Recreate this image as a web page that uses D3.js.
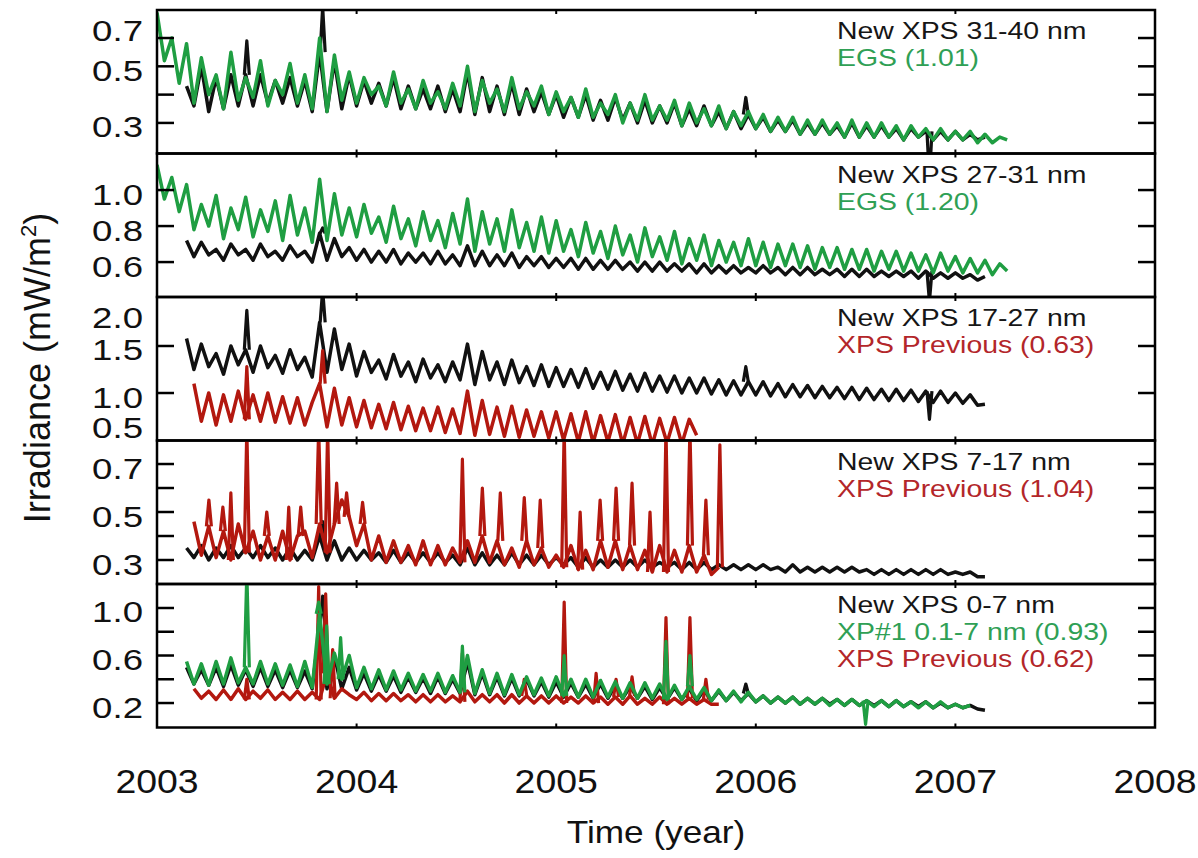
<!DOCTYPE html>
<html>
<head>
<meta charset="utf-8">
<script src="https://cdn.jsdelivr.net/npm/d3@7"></script>
<style>
  body { margin: 0; background: #fff; }
  svg { display: block; }
  text { font-family: "Liberation Sans", Arial, sans-serif; }
</style>
</head>
<body>
<div id="chart"></div>
<script>
// sampling step of every series: half a solar rotation (1/27 yr)
const STEP = 1 / 27;
const yearTicks = [2003, 2004, 2005, 2006, 2007, 2008];

// ── Panel 1: 31-40 nm ─────────────────────────────────────────────
const p1GreenStart = 2003.0;
const p1Green = [
  0.69,0.52,0.60,0.44,0.58,0.37,0.53,0.40,0.47,0.35,0.55,0.38,0.46,0.39,0.52,0.36,0.45,0.40,0.51,0.37,0.47,0.35,0.60,0.34,0.54,0.38,0.48,
  0.37,0.46,0.40,0.43,0.36,0.48,0.37,0.42,0.35,0.45,0.37,0.41,0.35,0.44,0.36,0.50,0.34,0.45,0.37,0.42,0.34,0.46,0.35,0.41,0.36,0.43,0.33,
  0.41,0.34,0.39,0.32,0.42,0.32,0.37,0.33,0.40,0.30,0.37,0.31,0.40,0.31,0.36,0.31,0.38,0.29,0.37,0.30,0.35,0.29,0.36,0.28,0.34,0.29,0.34,
  0.28,0.33,0.27,0.32,0.27,0.32,0.26,0.31,0.26,0.31,0.26,0.30,0.25,0.31,0.25,0.30,0.25,0.30,0.25,0.29,0.24,0.29,0.25,0.28,0.24,0.28,0.24,
  0.27,0.24,0.27,0.23,0.26,0.23,0.25,0.24
];
const p1BlackStart = 2003.148;
const p1Black = [
  0.43,0.36,0.50,0.34,0.46,0.35,0.47,0.36,0.47,0.36,0.47,0.37,0.45,0.37,0.46,0.36,0.45,0.34,0.55,0.34,0.52,0.35,0.47,
  0.36,0.45,0.37,0.44,0.36,0.46,0.35,0.43,0.35,0.42,0.35,0.43,0.34,0.42,0.34,0.48,0.33,0.46,0.34,0.43,0.33,0.44,0.33,0.42,0.34,0.41,0.33,
  0.40,0.32,0.39,0.32,0.40,0.31,0.38,0.31,0.39,0.31,0.37,0.30,0.38,0.30,0.36,0.30,0.37,0.29,0.35,0.29,0.36,0.29,0.34,0.28,0.34,0.28,0.33,
  0.28,0.32,0.27,0.31,0.27,0.31,0.26,0.30,0.26,0.30,0.26,0.29,0.25,0.30,0.25,0.29,0.25,0.29,0.25,0.28,0.24,0.28,0.25,0.27,0.24,0.27,0.24,
  0.27,0.24,0.26,0.24,0.25
];
const p1BlackFlares = [[2003.45, 0.59], [2003.83, 0.71], [2005.95, 0.39], [2006.87, 0.10]];

// ── Panel 2: 27-31 nm ─────────────────────────────────────────────
const p2GreenStart = 2003.0;
const p2Green = [
  1.14,0.95,1.07,0.88,1.03,0.78,0.92,0.80,0.97,0.73,0.90,0.78,0.96,0.74,0.89,0.77,0.94,0.72,0.97,0.75,0.90,0.71,1.06,0.72,0.98,0.75,0.90,
  0.74,0.92,0.76,0.85,0.71,0.91,0.73,0.84,0.69,0.88,0.72,0.83,0.68,0.87,0.70,0.95,0.66,0.88,0.70,0.84,0.66,0.89,0.68,0.82,0.66,0.85,0.65,
  0.83,0.66,0.78,0.63,0.82,0.65,0.77,0.62,0.80,0.64,0.75,0.60,0.79,0.63,0.74,0.61,0.77,0.59,0.73,0.61,0.75,0.58,0.72,0.60,0.71,0.58,0.73,
  0.58,0.71,0.57,0.70,0.58,0.70,0.57,0.69,0.56,0.68,0.57,0.68,0.56,0.67,0.56,0.67,0.55,0.66,0.56,0.66,0.55,0.65,0.55,0.64,0.54,0.65,0.55,
  0.63,0.54,0.62,0.54,0.61,0.53,0.59,0.55
];
const p2BlackStart = 2003.148;
const p2Black = [
  0.72,0.63,0.71,0.64,0.67,0.61,0.70,0.64,0.67,0.61,0.70,0.63,0.66,0.61,0.69,0.63,0.66,0.60,0.76,0.61,0.73,0.63,0.68,
  0.61,0.67,0.60,0.66,0.60,0.67,0.59,0.65,0.60,0.65,0.59,0.66,0.59,0.64,0.58,0.69,0.58,0.66,0.58,0.64,0.58,0.65,0.57,0.63,0.58,0.63,0.57,
  0.62,0.57,0.62,0.56,0.62,0.56,0.61,0.56,0.61,0.56,0.60,0.55,0.60,0.55,0.60,0.55,0.59,0.55,0.59,0.54,0.59,0.54,0.58,0.54,0.58,0.54,0.57,
  0.54,0.58,0.54,0.57,0.53,0.57,0.53,0.57,0.53,0.56,0.53,0.56,0.52,0.56,0.52,0.56,0.52,0.55,0.52,0.55,0.52,0.55,0.51,0.55,0.51,0.54,0.51,
  0.54,0.51,0.53,0.50,0.52
];
const p2BlackFlares = [[2003.83, 0.79], [2006.87, 0.38]];

// ── Panel 3: 17-27 nm ─────────────────────────────────────────────
const p3BlackStart = 2003.148;
const p3Black = [
  1.58,1.25,1.52,1.28,1.42,1.20,1.50,1.30,1.46,1.22,1.50,1.27,1.40,1.21,1.46,1.25,1.38,1.17,1.75,1.22,1.68,1.25,1.52,
  1.18,1.44,1.22,1.35,1.15,1.41,1.18,1.33,1.12,1.36,1.16,1.30,1.12,1.33,1.14,1.52,1.09,1.44,1.14,1.33,1.09,1.35,1.11,1.28,1.08,1.30,1.07,
  1.27,1.07,1.25,1.06,1.26,1.05,1.22,1.04,1.23,1.03,1.20,1.02,1.21,1.02,1.18,1.01,1.18,1.00,1.16,1.00,1.16,0.99,1.14,0.98,1.13,0.98,1.12,
  0.98,1.12,0.97,1.10,0.96,1.09,0.96,1.08,0.95,1.07,0.95,1.06,0.94,1.06,0.93,1.05,0.93,1.04,0.92,1.04,0.92,1.03,0.91,1.02,0.90,1.02,0.90,
  1.00,0.89,0.98,0.87,0.88
];
const p3BlackFlares = [[2003.45, 1.88], [2003.83, 2.10], [2005.95, 1.28], [2006.87, 0.72]];
const p3RedStart = 2003.185;
const p3Red = [
  1.10,0.70,1.00,0.66,0.98,0.70,1.02,0.72,0.98,0.70,1.00,0.69,0.96,0.68,0.95,0.66,0.90,1.10,0.64,1.05,0.66,0.95,
  0.64,0.92,0.63,0.88,0.62,0.90,0.61,0.86,0.60,0.84,0.60,0.85,0.58,0.83,0.57,1.02,0.55,0.92,0.56,0.85,0.54,0.86,0.53,0.82,0.54,0.80,0.52,
  0.80,0.50,0.78,0.48,0.80,0.47,0.76,0.48,0.77,0.46,0.74,0.46,0.75,0.45,0.73,0.47,0.74,0.46,0.72,0.55
];
const p3RedFlares = [[2003.45, 1.28], [2003.83, 1.45]];

// ── Panel 4: 7-17 nm ──────────────────────────────────────────────
const p4BlackStart = 2003.148;
const p4Black = [
  0.35,0.31,0.36,0.30,0.35,0.31,0.36,0.31,0.35,0.31,0.36,0.31,0.35,0.30,0.35,0.30,0.34,0.30,0.40,0.30,0.38,0.30,0.35,
  0.30,0.34,0.30,0.33,0.29,0.34,0.29,0.33,0.29,0.33,0.29,0.33,0.29,0.32,0.28,0.35,0.28,0.33,0.28,0.32,0.28,0.33,0.28,0.32,0.28,0.32,0.28,
  0.31,0.28,0.31,0.27,0.31,0.27,0.30,0.27,0.30,0.27,0.30,0.27,0.30,0.27,0.29,0.27,0.29,0.26,0.29,0.26,0.29,0.26,0.28,0.26,0.28,0.26,0.28,
  0.26,0.28,0.26,0.27,0.25,0.28,0.25,0.27,0.25,0.27,0.25,0.27,0.25,0.27,0.25,0.26,0.24,0.26,0.24,0.26,0.24,0.26,0.24,0.26,0.24,0.26,0.24,
  0.25,0.24,0.25,0.23,0.23
];
const p4BlackFlares = [[2003.83, 0.46]];
const p4RedStart = 2003.185;
const p4Red = [
  0.46,0.32,0.44,0.31,0.42,0.30,0.45,0.33,0.42,0.30,0.40,0.30,0.42,0.30,0.40,0.42,0.31,0.45,0.33,0.45,0.55,0.48,
  0.36,0.45,0.30,0.40,0.29,0.38,0.29,0.36,0.28,0.38,0.28,0.36,0.28,0.35,0.29,0.38,0.29,0.40,0.29,0.38,0.28,0.35,0.27,0.38,0.28,0.35,0.27,
  0.32,0.27,0.36,0.26,0.34,0.26,0.38,0.27,0.38,0.26,0.36,0.26,0.34,0.25,0.36,0.25,0.34,0.25,0.36,0.25,0.32,0.24,0.27
];
const p4RedFlares = [
  [2003.26, 0.55], [2003.33, 0.52], [2003.37, 0.58], [2003.45, 0.85], [2003.55, 0.50], [2003.66, 0.52],
  [2003.72, 0.52], [2003.81, 0.85], [2003.855, 0.85], [2003.90, 0.62], [2003.95, 0.58],
  [2004.03, 0.54], [2004.53, 0.72], [2004.63, 0.60], [2004.72, 0.58], [2004.84, 0.56], [2004.92, 0.55],
  [2005.04, 0.85], [2005.12, 0.50], [2005.22, 0.55], [2005.30, 0.60], [2005.38, 0.62], [2005.47, 0.50],
  [2005.55, 0.85], [2005.67, 0.85], [2005.75, 0.55], [2005.82, 0.78]
];

// ── Panel 5: 0-7 nm ───────────────────────────────────────────────
const p5BlackStart = 2003.148;
const p5Black = [
  0.50,0.36,0.48,0.35,0.50,0.34,0.52,0.35,0.48,0.34,0.50,0.34,0.48,0.33,0.48,0.33,0.47,0.32,0.85,0.32,0.60,0.32,0.50,
  0.31,0.45,0.30,0.44,0.30,0.43,0.29,0.42,0.29,0.41,0.28,0.42,0.28,0.40,0.28,0.55,0.27,0.45,0.27,0.42,0.26,0.41,0.26,0.40,0.26,0.38,0.25,
  0.38,0.25,0.37,0.25,0.36,0.24,0.36,0.24,0.35,0.24,0.34,0.24,0.34,0.23,0.33,0.23,0.33,0.23,0.32,0.22,0.31,0.22,0.30,0.22,0.29,0.22,0.28,
  0.21,0.26,0.20,0.25,0.20,0.25,0.19,0.24,0.19,0.24,0.19,0.23,0.18,0.23,0.18,0.22,0.18,0.22,0.17,0.22,0.17,0.21,0.17,0.21,0.16,0.20,0.16,
  0.19,0.16,0.18,0.15,0.14
];
const p5BlackFlares = [[2003.83, 1.10], [2005.95, 0.36]];
const p5RedStart = 2003.185;
const p5Red = [
  0.32,0.24,0.30,0.23,0.31,0.23,0.32,0.23,0.30,0.24,0.31,0.23,0.29,0.23,0.30,0.23,0.29,0.23,0.45,0.24,0.32,0.27,
  0.23,0.29,0.22,0.28,0.22,0.28,0.22,0.27,0.21,0.27,0.21,0.27,0.21,0.26,0.21,0.30,0.21,0.27,0.21,0.27,0.20,0.27,0.20,0.26,0.20,0.26,0.20,
  0.26,0.20,0.25,0.20,0.26,0.20,0.25,0.19,0.25,0.19,0.26,0.19,0.24,0.19,0.25,0.19,0.24,0.19,0.24,0.19,0.23,0.19,0.19
];
const p5RedFlares = [
  [2003.45, 0.40], [2003.81, 1.18], [2003.845, 1.12], [2003.88, 0.65], [2004.53, 0.62], [2004.84, 0.40],
  [2005.04, 1.05], [2005.20, 0.45], [2005.30, 0.40], [2005.38, 0.42], [2005.55, 0.92], [2005.67, 0.92], [2005.75, 0.40]
];
const p5GreenStart = 2003.148;
const p5Green = [
  0.55,0.36,0.53,0.35,0.55,0.36,0.58,0.37,0.50,0.36,0.55,0.36,0.53,0.35,0.52,0.34,0.55,0.33,0.95,0.36,0.62,0.40,0.60,
  0.33,0.50,0.32,0.48,0.31,0.47,0.31,0.45,0.30,0.44,0.30,0.45,0.29,0.43,0.29,0.60,0.28,0.48,0.28,0.45,0.27,0.44,0.27,0.42,0.27,0.41,0.26,
  0.42,0.26,0.40,0.25,0.40,0.25,0.39,0.25,0.38,0.24,0.37,0.24,0.37,0.24,0.36,0.23,0.35,0.23,0.34,0.23,0.33,0.22,0.31,0.22,0.30,0.21,0.29,
  0.21,0.26,0.20,0.25,0.20,0.25,0.19,0.24,0.19,0.24,0.18,0.23,0.18,0.23,0.18,0.22,0.17,0.22,0.17,0.22,0.17,0.21,0.16,0.21,0.16,0.21,0.16,
  0.19,0.16,0.18
];
const p5GreenFlares = [
  [2003.45, 1.30], [2003.81, 1.05], [2003.85, 0.85], [2003.92, 0.75], [2004.53, 0.68],
  [2005.04, 0.60], [2005.55, 0.72], [2005.67, 0.60], [2006.55, 0.02]
];

// ── Colours ───────────────────────────────────────────────────────
const COL = { k: '#111111', g: '#1f9e42', r: '#b3180f' };
const TXT = { k: '#161616', g: '#2fa055', r: '#b3262a' };

const panels = [
  { domain: [0.192, 0.699], ticks: [0.3, 0.4, 0.5, 0.6], labels: [0.3, 0.5, 0.7],
    legend: [['New XPS 31-40 nm', 'k'], ['EGS (1.01)', 'g']],
    series: [
      { c: 'k', start: p1BlackStart, v: p1Black, f: p1BlackFlares },
      { c: 'g', start: p1GreenStart, v: p1Green, f: [] }] },
  { domain: [0.406, 1.203], ticks: [0.6, 0.8, 1.0], labels: [0.6, 0.8, 1.0],
    legend: [['New XPS 27-31 nm', 'k'], ['EGS (1.20)', 'g']],
    series: [
      { c: 'k', start: p2BlackStart, v: p2Black, f: p2BlackFlares },
      { c: 'g', start: p2GreenStart, v: p2Green, f: [] }] },
  { domain: [0.495, 2.021], ticks: [0.5, 1.0, 1.5, 2.0], labels: [0.5, 1.0, 1.5, 2.0],
    legend: [['New XPS 17-27 nm', 'k'], ['XPS Previous (0.63)', 'r']],
    series: [
      { c: 'k', start: p3BlackStart, v: p3Black, f: p3BlackFlares },
      { c: 'r', start: p3RedStart, v: p3Red, f: p3RedFlares }] },
  { domain: [0.2, 0.798], ticks: [0.3, 0.4, 0.5, 0.6, 0.7], labels: [0.3, 0.5, 0.7],
    legend: [['New XPS 7-17 nm', 'k'], ['XPS Previous (1.04)', 'r']],
    series: [
      { c: 'k', start: p4BlackStart, v: p4Black, f: p4BlackFlares },
      { c: 'r', start: p4RedStart, v: p4Red, f: p4RedFlares }] },
  { domain: [-0.006, 1.202], ticks: [0.2, 0.4, 0.6, 0.8, 1.0], labels: [0.2, 0.6, 1.0],
    legend: [['New XPS 0-7 nm', 'k'], ['XP#1 0.1-7 nm (0.93)', 'g'], ['XPS Previous (0.62)', 'r']],
    series: [
      { c: 'k', start: p5BlackStart, v: p5Black, f: p5BlackFlares },
      { c: 'r', start: p5RedStart, v: p5Red, f: p5RedFlares },
      { c: 'g', start: p5GreenStart, v: p5Green, f: p5GreenFlares }] }
];

const W = 1198, H = 858;
const L = 157, R = 1155;
const edges = [10, 153.5, 297, 440.5, 584, 727.5];

const svg = d3.select('#chart').append('svg').attr('width', W).attr('height', H);
const x = d3.scaleLinear().domain([2003, 2008]).range([L, R]);

// stretched text, the original figure is wider than tall
function label(g, tx, ty, str, size, sx, anchor, fill) {
  return g.append('text')
    .attr('transform', `translate(${tx},${ty}) scale(${sx},1)`)
    .attr('text-anchor', anchor).attr('font-size', size).attr('fill', fill)
    .text(str);
}

panels.forEach((p, pi) => {
  const top = edges[pi], bot = edges[pi + 1];
  const y = d3.scaleLinear().domain(p.domain).range([bot, top]);
  const g = svg.append('g');

  svg.append('clipPath').attr('id', `clip${pi}`)
    .append('rect').attr('x', L).attr('y', top).attr('width', R - L).attr('height', bot - top);
  const dg = g.append('g').attr('clip-path', `url(#clip${pi})`);

  for (const s of p.series) {
    const line = d3.line()
      .x((d, i) => x(s.start + i * STEP))
      .y(d => y(d));
    dg.append('path').datum(s.v)
      .attr('d', line)
      .attr('fill', 'none').attr('stroke', COL[s.c]).attr('stroke-width', 3.5)
      .attr('stroke-linejoin', 'round');
    // narrow flare / dropout spikes on top of the series baseline
    for (const [t, peak] of s.f) {
      const idx = Math.max(0, Math.min(s.v.length - 1, Math.round((t - s.start) / STEP)));
      const base = s.v[idx];
      const px = x(t);
      dg.append('path')
        .attr('d', `M${px - 2.5},${y(base)}L${px},${y(peak)}L${px + 2.5},${y(base)}`)
        .attr('fill', 'none').attr('stroke', COL[s.c]).attr('stroke-width', 3.2)
        .attr('stroke-linejoin', 'round');
    }
  }

  // y tick marks on both sides
  for (const t of p.ticks) {
    const ty = y(t);
    if (ty < top + 3 || ty > bot - 3) continue;
    g.append('line').attr('x1', L).attr('x2', L + 17).attr('y1', ty).attr('y2', ty)
      .attr('stroke', '#000').attr('stroke-width', 2.5);
    g.append('line').attr('x1', R - 17).attr('x2', R).attr('y1', ty).attr('y2', ty)
      .attr('stroke', '#000').attr('stroke-width', 2.5);
  }
  // small year ticks at panel edges
  for (const yr of yearTicks.slice(1, -1)) {
    g.append('line').attr('x1', x(yr)).attr('x2', x(yr)).attr('y1', bot).attr('y2', bot - 4)
      .attr('stroke', '#000').attr('stroke-width', 2);
    g.append('line').attr('x1', x(yr)).attr('x2', x(yr)).attr('y1', top).attr('y2', top + 4)
      .attr('stroke', '#000').attr('stroke-width', 2);
  }

  // y tick labels, pushed inside the panel near its edges
  for (const t of p.labels) {
    const ly = Math.max(top + 20, Math.min(bot - 13, y(t) + 4));
    label(g, 143, ly + 10.5, d3.format('.1f')(t), 30, 1.22, 'end', '#111');
  }

  // legend
  p.legend.forEach(([str, c], li) => {
    label(g, 837, top + 29 + li * 27, str, 24.5, 1.16, 'start', TXT[c]);
  });

  g.append('rect').attr('x', L).attr('y', top).attr('width', R - L).attr('height', bot - top)
    .attr('fill', 'none').attr('stroke', '#000').attr('stroke-width', 2.5);
});

// x tick labels
const xg = svg.append('g');
for (const yr of yearTicks) {
  label(xg, x(yr), 793, String(yr), 34, 1.1, 'middle', '#111');
}
label(xg, (L + R) / 2, 843, 'Time (year)', 32, 1.1, 'middle', '#111');

// y axis title
const yt = svg.append('text')
  .attr('transform', 'translate(50,368) rotate(-90)')
  .attr('text-anchor', 'middle').attr('font-size', 36).attr('fill', '#111');
yt.append('tspan').text('Irradiance (mW/m');
yt.append('tspan').attr('font-size', 22).attr('dy', -14).text('2');
yt.append('tspan').attr('dy', 14).text(')');
</script>
</body>
</html>
